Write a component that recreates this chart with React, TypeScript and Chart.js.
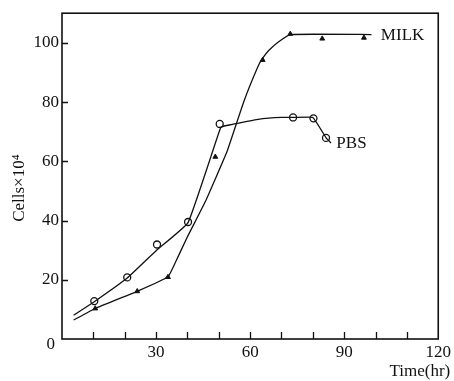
import React, { useEffect, useRef } from "react";
import { Chart, registerables } from "chart.js";

Chart.register(...registerables);

// ---- data ----
const X_TICKS = [0, 10, 20, 30, 40, 50, 60, 70, 80, 90, 100, 110, 120];
const X_LABELS = [30, 60, 90, 120];
const Y_TICKS = [0, 20, 40, 60, 80, 100];

// measured points (markers)
const PBS_X = [10.3, 20.8, 30.3, 40.2, 50.3, 73.7, 80.2, 84.2];
const PBS_Y = [12.8, 20.8, 31.9, 39.5, 72.6, 74.8, 74.5, 67.9];
const MILK_X = [10.6, 24.0, 33.8, 48.9, 64.0, 72.8, 83.0, 96.3];
const MILK_Y = [10.3, 16.1, 20.9, 61.5, 94.2, 103.0, 101.4, 101.7];

// hand-drawn fitted curves
const PBS_LINE_X = [3.7, 10.3, 20.8, 30.0, 40.2, 50.6, 52.0, 54.0, 56.0, 59.0, 62.0, 66.0, 70.0, 74.0, 80.0, 84.3, 85.8];
const PBS_LINE_Y = [8.0, 12.6, 20.6, 29.8, 39.3, 71.4, 72.0, 72.4, 72.8, 73.5, 74.1, 74.6, 74.8, 74.8, 74.8, 67.8, 66.2];
const MILK_LINE_X = [3.7, 10.6, 24.0, 33.8, 36.0, 40.0, 45.8, 52.6, 58.0, 62.5, 64.0, 66.0, 69.0, 72.8, 98.7];
const MILK_LINE_Y = [6.4, 10.3, 16.1, 21.0, 25.5, 34.5, 46.6, 63.2, 80.2, 92.0, 94.8, 97.5, 100.3, 102.8, 102.8];

const SERIES = ["MILK", "PBS"];
const X_TITLE = "Time(hr)";
const Y_TITLE = "Cells\u00d710\u2074";

const FONT = '"Liberation Serif", "DejaVu Serif", serif';
const INK = "#111";

const pts = (xs: number[], ys: number[]) => xs.map((x, i) => ({ x, y: ys[i] }));

const decor = {
  id: "decor",
  afterDraw(chart: any) {
    const { ctx, chartArea: a, scales } = chart;
    const x = scales.x;
    const y = scales.y;
    ctx.save();
    ctx.strokeStyle = INK;
    ctx.lineWidth = 1.6;
    ctx.strokeRect(a.left, a.top, a.right - a.left, a.bottom - a.top);
    ctx.lineWidth = 1.3;
    ctx.beginPath();
    X_TICKS.forEach((v) => {
      if (v === X_TICKS[0] || v === X_TICKS[X_TICKS.length - 1]) return;
      const px = Math.round(x.getPixelForValue(v)) + 0.5;
      ctx.moveTo(px, a.bottom);
      ctx.lineTo(px, a.bottom - 7);
    });
    Y_TICKS.forEach((v) => {
      if (v === 0) return;
      const py = Math.round(y.getPixelForValue(v)) + 0.5;
      ctx.moveTo(a.left, py);
      ctx.lineTo(a.left + 6, py);
    });
    ctx.stroke();

    ctx.fillStyle = INK;
    ctx.font = `17px ${FONT}`;
    ctx.textBaseline = "middle";
    ctx.textAlign = "left";
    ctx.fillText(SERIES[0], x.getPixelForValue(101.7), y.getPixelForValue(102.6));
    ctx.fillText(SERIES[1], x.getPixelForValue(87.5), y.getPixelForValue(65.9));

    // origin label
    ctx.textAlign = "right";
    ctx.fillText("0", x.getPixelForValue(0) - 7, y.getPixelForValue(0) + 6);

    // axis titles
    ctx.textAlign = "right";
    ctx.fillText(X_TITLE, a.right + 12, a.bottom + 33);
    ctx.translate(a.left - 42, (a.top + a.bottom) / 2 + 12);
    ctx.rotate(-Math.PI / 2);
    ctx.textAlign = "center";
    ctx.fillText(Y_TITLE, 0, 0);
    ctx.restore();
  },
};

export default function App() {
  const ref = useRef<HTMLCanvasElement | null>(null);
  useEffect(() => {
    if (!ref.current) return;
    const chart = new Chart(ref.current, {
      type: "scatter",
      data: {
        datasets: [
          {
            label: "PBS curve",
            data: pts(PBS_LINE_X, PBS_LINE_Y),
            showLine: true,
            borderColor: INK,
            borderWidth: 1.3,
            pointRadius: 0,
            tension: 0.1,
          },
          {
            label: "MILK curve",
            data: pts(MILK_LINE_X, MILK_LINE_Y),
            showLine: true,
            borderColor: INK,
            borderWidth: 1.3,
            pointRadius: 0,
            tension: 0.1,
          },
          {
            label: "PBS",
            data: pts(PBS_X, PBS_Y),
            showLine: false,
            pointStyle: "circle",
            pointRadius: 3.5,
            pointBorderWidth: 1.3,
            pointBorderColor: INK,
            pointBackgroundColor: "#fff",
          },
          {
            label: "MILK",
            data: pts(MILK_X, MILK_Y),
            showLine: false,
            pointStyle: "triangle",
            pointRadius: 2.8,
            pointBorderWidth: 1,
            pointBorderColor: INK,
            pointBackgroundColor: INK,
          },
        ],
      },
      options: {
        responsive: false,
        animation: false,
        devicePixelRatio: 1,
        layout: { padding: { top: 12, right: 14, left: 0, bottom: 0 } },
        plugins: { legend: { display: false }, tooltip: { enabled: false } },
        scales: {
          x: {
            type: "linear",
            min: 0,
            max: 120,
            afterBuildTicks: (s: any) => {
              s.ticks = X_TICKS.map((v) => ({ value: v }));
            },
            afterFit: (s: any) => {
              s.height = 42;
            },
            grid: { display: false, drawTicks: false },
            border: { display: false },
            ticks: {
              autoSkip: false,
              maxRotation: 0,
              padding: 3,
              color: INK,
              font: { family: FONT, size: 17 },
              callback: (v: any) => (X_LABELS.includes(Number(v)) ? String(v) : ""),
            },
          },
          y: {
            type: "linear",
            min: 0,
            max: 110,
            afterBuildTicks: (s: any) => {
              s.ticks = Y_TICKS.map((v) => ({ value: v }));
            },
            afterFit: (s: any) => {
              s.width = 62;
            },
            grid: { display: false, drawTicks: false },
            border: { display: false },
            ticks: {
              padding: 3,
              color: INK,
              font: { family: FONT, size: 17 },
              callback: (v: any) => (Number(v) === 0 ? "" : String(v)),
            },
          },
        },
      },
      plugins: [decor],
    });
    return () => chart.destroy();
  }, []);
  return (
    <div style={{ position: "absolute", left: 0, top: 0, width: 454, height: 381, background: "#fff" }}>
      <canvas ref={ref} width={454} height={381} />
    </div>
  );
}
